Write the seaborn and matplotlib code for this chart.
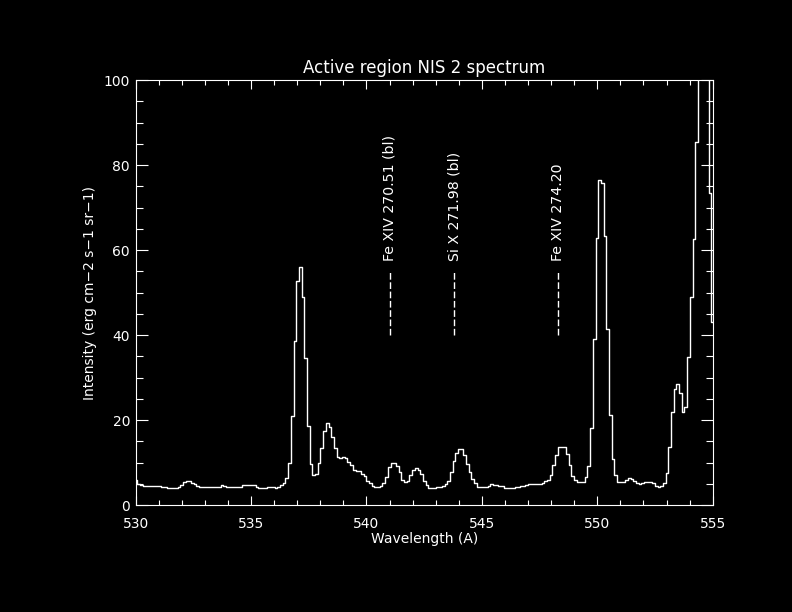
import numpy as np
import matplotlib
matplotlib.use("Agg")
import matplotlib.pyplot as plt
from matplotlib.ticker import MultipleLocator
import seaborn as sns

# NIS 2 spectrum, one value per detector bin (2nd order wavelengths)
wave_start = 530.008
wave_step = 0.1168
intensity = [
    5.8, 5.0, 4.8, 4.55, 4.55, 4.55, 4.55, 4.55, 4.55, 4.55,
    4.35, 4.35, 4.0, 4.0, 4.0, 4.0, 4.35, 4.75, 5.5, 5.55,
    5.55, 5.25, 4.9, 4.55, 4.35, 4.35, 4.35, 4.35, 4.35, 4.35,
    4.35, 4.35, 4.75, 4.55, 4.35, 4.35, 4.35, 4.35, 4.35, 4.35,
    4.65, 4.65, 4.65, 4.65, 4.65, 4.35, 4.0, 4.0, 4.0, 4.25,
    4.25, 4.15, 3.95, 4.35, 4.75, 5.15, 6.3, 10.0, 20.9, 38.6,
    52.7, 55.9, 49.0, 34.5, 18.6, 9.7, 7.0, 7.4, 9.8, 13.4,
    17.4, 19.2, 18.4, 16.0, 13.4, 11.2, 11.0, 11.2, 11.0, 10.2,
    9.4, 8.2, 8.0, 8.0, 7.4, 6.8, 5.6, 5.1, 4.45, 4.15,
    4.15, 4.45, 5.1, 6.6, 8.85, 10.0, 10.0, 9.2, 7.7, 6.0,
    5.35, 5.7, 7.0, 8.2, 8.6, 8.2, 7.3, 5.6, 4.75, 3.95,
    3.95, 3.95, 4.15, 4.15, 4.45, 4.95, 5.6, 7.7, 10.4, 12.3,
    13.3, 13.1, 11.8, 9.65, 7.8, 6.2, 5.15, 4.35, 4.35, 4.35,
    4.35, 4.55, 4.85, 4.75, 4.65, 4.4, 4.4, 4.05, 3.9, 3.9,
    3.9, 4.15, 4.15, 4.4, 4.4, 4.65, 4.85, 4.95, 4.95, 4.95,
    4.95, 5.25, 5.55, 6.0, 7.0, 9.4, 11.8, 13.7, 13.7, 13.7,
    12.0, 9.4, 6.9, 5.9, 5.5, 5.35, 5.5, 6.5, 9.2, 18.2,
    39.0, 62.8, 76.4, 75.7, 63.4, 41.5, 21.2, 10.8, 7.0, 5.5,
    5.5, 5.5, 5.9, 6.3, 6.1, 5.65, 5.1, 4.85, 5.1, 5.5,
    5.5, 5.45, 5.1, 4.55, 4.35, 4.55, 5.25, 7.6, 13.6, 22.0,
    27.4, 28.4, 26.3, 22.0, 23.1, 34.8, 48.9, 62.5, 85.4, 115,
    148, 162, 130, 73.5, 43.0,
]
wavelength = wave_start + wave_step * np.arange(len(intensity))

# line identifications
line_wave = [541.0, 543.8, 548.3]
line_labels = ['Fe XIV 270.51 (bl)', 'Si X 271.98 (bl)', 'Fe XIV 274.20']
mark_lo, mark_hi, label_y = 40, 55, 57.5

sns.set_theme(style='ticks', rc={
    'figure.facecolor': 'black', 'axes.facecolor': 'black',
    'axes.edgecolor': 'white', 'axes.labelcolor': 'white',
    'text.color': 'white', 'xtick.color': 'white', 'ytick.color': 'white',
    'axes.linewidth': 0.8,
})
plt.rcParams['font.family'] = ['DejaVu Sans']

fig = plt.figure(figsize=(7.92, 6.12), dpi=100)
ax = fig.add_axes([0.1712, 0.1748, 0.7287, 0.6944])

sns.lineplot(x=wavelength, y=intensity, ax=ax, color='white', lw=1.0,
             drawstyle='steps-mid', estimator=None, sort=False)

ax.vlines(line_wave, mark_lo, mark_hi, colors='white', lw=1.0,
          linestyles=[(0, (4.8, 1.9))])
for w, lab in zip(line_wave, line_labels):
    ax.text(w, label_y, lab, rotation=90, ha='center', va='bottom',
            fontsize=10.2, color='white')

ax.set_xlim(530, 555)
ax.set_ylim(0, 100)
ax.xaxis.set_major_locator(MultipleLocator(5))
ax.xaxis.set_minor_locator(MultipleLocator(1))
ax.yaxis.set_major_locator(MultipleLocator(20))
ax.yaxis.set_minor_locator(MultipleLocator(5))
ax.tick_params(which='both', direction='in', top=True, right=True,
               width=0.8, labelsize=10)
ax.tick_params(axis='x', which='major', length=6.7, pad=8.4)
ax.tick_params(axis='x', which='minor', length=3.8)
ax.tick_params(axis='y', which='major', length=8.9, pad=4)
ax.tick_params(axis='y', which='minor', length=4.8)

ax.set_title('Active region NIS 2 spectrum', fontsize=12, pad=5, color='white')
ax.set_xlabel('Wavelength (A)', fontsize=10)
ax.set_ylabel('Intensity (erg cm\u22122 s\u22121 sr\u22121)', fontsize=10)
ax.xaxis.set_label_coords(0.5, -0.0635)
ax.yaxis.set_label_coords(-0.066, 0.5)

fig.savefig('out.png', dpi=100, facecolor='black')
